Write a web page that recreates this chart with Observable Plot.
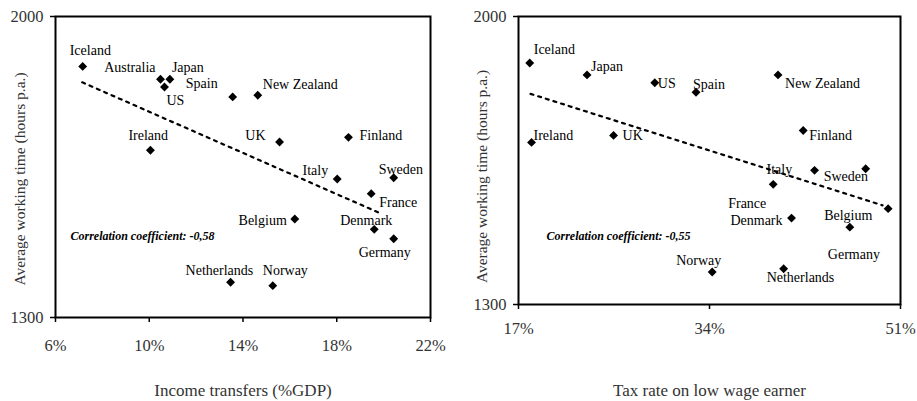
<!DOCTYPE html>
<html><head><meta charset="utf-8">
<script src="https://cdn.jsdelivr.net/npm/d3@7"></script>
<script src="https://cdn.jsdelivr.net/npm/@observablehq/plot@0.6"></script>
<style>
body{margin:0;background:#fff;}
#wrap{display:flex;width:917px;height:401px;overflow:hidden;}
</style></head><body><div id="wrap"></div>
<script>
// ---- data ----
const leftCountries = ["Iceland","Australia","Japan","US","Spain","New Zealand","Ireland","UK","Finland","Italy","Sweden","France","Belgium","Denmark","Germany","Netherlands","Norway"];
const incomeTransfers = [7.16,10.48,10.88,10.65,13.56,14.63,10.05,15.56,18.5,18.02,20.43,19.47,16.21,19.6,20.43,13.47,15.27];
const hoursLeft = [1884,1854,1854,1836,1813,1817,1689,1708,1719,1622,1625,1588,1529,1505,1483,1382,1374];

const rightCountries = ["Iceland","Japan","US","Spain","New Zealand","Ireland","UK","Finland","France","Italy","Sweden","Denmark","Germany","Belgium","Netherlands","Norway"];
const taxRate = [18.0,23.1,29.13,32.8,40.1,18.16,25.46,42.34,39.67,43.35,47.9,41.3,46.49,49.9,40.6,34.24];
const hoursRight = [1887,1858,1839,1816,1858,1694,1711,1723,1592,1626,1630,1510,1488,1533,1387,1379];

const trendLeftX = [7.14, 19.79];
const trendLeftY = [1847, 1544];
const trendRightX = [18.07, 49.4];
const trendRightY = [1812, 1541];

const leftXTicks = [6, 10, 14, 18, 22];
const rightXTicks = [17, 34, 51];
const yTicks = [1300, 2000];

const leftCorr = "Correlation coefficient: -0,58";
const rightCorr = "Correlation coefficient: -0,55";
const leftXTitle = "Income transfers (%GDP)";
const rightXTitle = "Tax rate on low wage earner";
const yTitle = "Average working time (hours p.a.)";

// ---- label placement (pixel offsets, style only) ----
const leftPlace = {
  "Iceland":[-13,-16,"start"], "Australia":[-5,-12,"end"], "Japan":[2,-12,"start"],
  "US":[2,13,"start"], "Spain":[-15,-13,"end"], "New Zealand":[5,-11,"start"],
  "Ireland":[-22,-15,"start"], "UK":[-14,-7,"end"], "Finland":[11,-2,"start"],
  "Italy":[-9,-9,"end"], "Sweden":[-15,-8,"start"], "France":[8,9,"start"],
  "Belgium":[-8,1,"end"], "Denmark":[-34,-9,"start"], "Germany":[-35,14,"start"],
  "Netherlands":[-45,-12,"start"], "Norway":[-10,-15,"start"]
};
const rightPlace = {
  "Iceland":[4,-13,"start"], "Japan":[4,-8,"start"], "US":[3,1,"start"],
  "Spain":[-3,-8,"start"], "New Zealand":[7,9,"start"], "Ireland":[2,-7,"start"],
  "UK":[9,0,"start"], "Finland":[6,5,"start"], "France":[-45,19,"start"],
  "Italy":[-48,-1,"start"], "Sweden":[-42,8,"start"], "Denmark":[-9,2,"end"],
  "Germany":[-22,27,"start"], "Belgium":[-64,7,"start"],
  "Netherlands":[-17,9,"start"], "Norway":[-36,-11,"start"]
};

function panel(cfg) {
  const rows = cfg.countries.map((c, i) => ({country: c, x: cfg.xs[i], y: cfg.ys[i]}));
  const trend = cfg.trendX.map((x, i) => ({x, y: cfg.trendY[i]}));
  const labelMarks = rows.map(r => {
    const p = cfg.place[r.country];
    return Plot.text([r], {x: "x", y: "y", text: "country", dx: p[0], dy: p[1], textAnchor: p[2], fontSize: 14, fill: "#000"});
  });
  return Plot.plot({
    width: cfg.width, height: 401,
    marginLeft: cfg.ml, marginRight: cfg.mr, marginTop: cfg.mt, marginBottom: cfg.mb,
    style: {fontFamily: "'Liberation Serif', serif", fontSize: "16.5px", color: "#333", background: "#fff", overflow: "visible"},
    x: {domain: cfg.xDomain},
    y: {domain: [1300, 2000]},
    marks: [
      Plot.frame({stroke: "#000", strokeWidth: 2}),
      Plot.axisX({ticks: cfg.xTicks, tickFormat: d => d + "%", tickSize: 5, tickPadding: cfg.tpx, label: null, strokeWidth: 1.5, stroke: "#000"}),
      Plot.axisY({ticks: yTicks, tickFormat: d => String(d), tickSize: 5, tickPadding: 7, label: null, strokeWidth: 1.5, stroke: "#000"}),
      Plot.line(trend, {x: "x", y: "y", stroke: "#000", strokeWidth: 2.2, strokeDasharray: "3,5"}),
      Plot.dot(rows, {x: "x", y: "y", symbol: "diamond2", r: 4, fill: "#000"}),
      ...labelMarks,
      Plot.text([cfg.corr], {frameAnchor: "top-left", dx: cfg.corrDx, dy: 220, text: d => d, fontStyle: "italic", fontWeight: "bold", fontSize: 12, textAnchor: "start", lineAnchor: "middle", fill: "#000"}),
      Plot.text([cfg.xTitle], {frameAnchor: "bottom", dy: cfg.xtDy, text: d => d, fontSize: 17, textAnchor: "middle", lineAnchor: "middle"}),
      Plot.text([yTitle], {frameAnchor: "left", dx: cfg.ytDx, dy: cfg.ytDy, rotate: -90, text: d => d, fontSize: 15.5, textAnchor: "middle", lineAnchor: "middle"})
    ]
  });
}

const wrap = document.getElementById("wrap");
wrap.appendChild(panel({
  countries: leftCountries, xs: incomeTransfers, ys: hoursLeft,
  trendX: trendLeftX, trendY: trendLeftY, place: leftPlace,
  width: 460, ml: 55, mr: 30, mt: 16, mb: 84,
  xDomain: [6, 22], xTicks: leftXTicks, tpx: 17,
  corr: leftCorr, corrDx: 15, xTitle: leftXTitle, xtDy: 73, ytDx: -35, ytDy: 12
}));
wrap.appendChild(panel({
  countries: rightCountries, xs: taxRate, ys: hoursRight,
  trendX: trendRightX, trendY: trendRightY, place: rightPlace,
  width: 457, ml: 58, mr: 17, mt: 16, mb: 97,
  xDomain: [17, 51], xTicks: rightXTicks, tpx: 13,
  corr: rightCorr, corrDx: 28, xTitle: rightXTitle, xtDy: 86, ytDx: -36, ytDy: 16
}));
</script></body></html>
